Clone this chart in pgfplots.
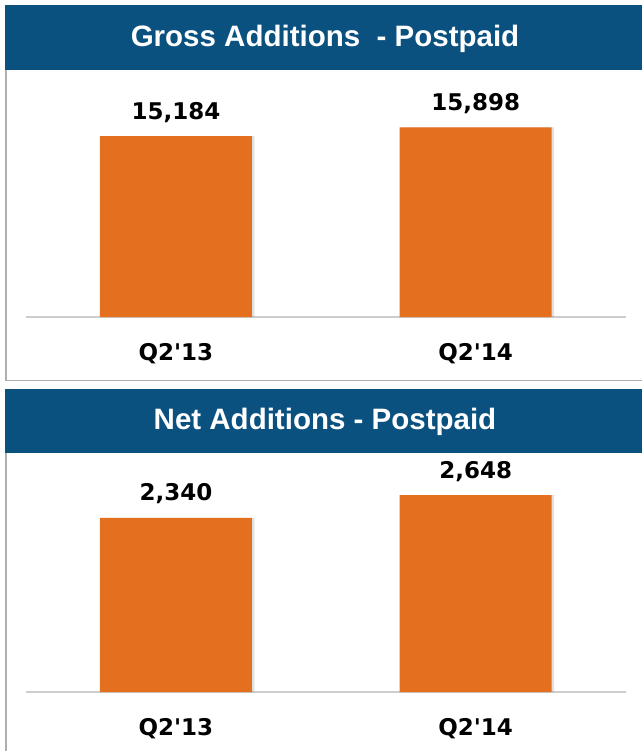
\documentclass[border=0pt]{standalone}
\usepackage{fontspec}
\setmainfont{DejaVu Sans}
\newfontfamily\hfont{Liberation Sans}
\usepackage{pgfplots}
\pgfplotsset{compat=1.18}
\usetikzlibrary{shadows}
\definecolor{hdr}{RGB}{10,81,128}
\definecolor{barc}{RGB}{228,111,30}
\definecolor{brd}{RGB}{175,175,175}
\definecolor{axl}{RGB}{205,205,205}
\pgfplotsset{
  panel/.style={
    ybar, scale only axis, anchor=south west, clip=false,
    width=599.5pt, bar width=152pt,
    xmin=-0.5, xmax=1.5, ymin=0,
    axis x line=bottom, axis y line=none,
    x axis line style={axl, line width=1.5pt, -},
    xtick={0,1}, xticklabels={Q2\textquotesingle13, Q2\textquotesingle14},
    major tick length=0pt,
    xticklabel style={font=\bfseries\fontsize{23}{27}\selectfont, anchor=base, yshift=-43pt},
    nodes near coords={\pgfmathprintnumber[assume math mode=true,1000 sep={,},fixed,precision=0]{\pgfplotspointmeta}},
    nodes near coords style={font=\bfseries\fontsize{23}{27}\selectfont, anchor=base, yshift=17pt, black},
  }
}
\begin{document}
\begin{tikzpicture}
\useasboundingbox (0pt,0pt) rectangle (641pt,-751pt);
\fill[white] (0pt,0pt) rectangle (641pt,-751pt);
% top panel
\draw[brd, line width=1.5pt] (6pt,-70pt) -- (6pt,-380.5pt) -- (642pt,-380.5pt);
\fill[hdr] (5pt,-5pt) rectangle (642pt,-70pt);
\node[white, font=\hfont\bfseries\fontsize{29.5}{33}\selectfont] at (325pt,-39pt) {Gross Additions \ - Postpaid};
% bottom panel
\draw[brd, line width=1.5pt] (6pt,-453pt) -- (6pt,-752pt);
\fill[hdr] (5pt,-389pt) rectangle (642pt,-453pt);
\node[white, font=\hfont\bfseries\fontsize{29.5}{33}\selectfont] at (325pt,-422pt) {Net Additions - Postpaid};

\begin{axis}[panel, at={(26pt,-317pt)}, height=238.4pt, ymax=20000]
\addplot[fill=barc, draw=none, drop shadow={shadow xshift=2.5pt, shadow yshift=0pt, opacity=0.25}] coordinates {(0,15184) (1,15898)};
\end{axis}

\begin{axis}[panel, at={(26pt,-692pt)}, height=223.1pt, ymax=3000]
\addplot[fill=barc, draw=none, drop shadow={shadow xshift=2.5pt, shadow yshift=0pt, opacity=0.25}] coordinates {(0,2340) (1,2648)};
\end{axis}
\end{tikzpicture}
\end{document}
